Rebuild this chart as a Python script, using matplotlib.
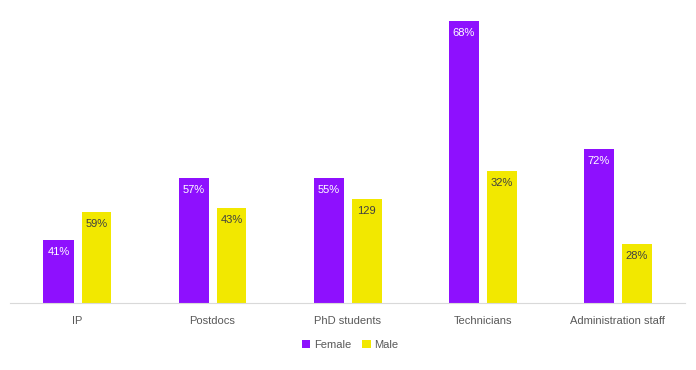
import matplotlib
matplotlib.use("Agg")
import matplotlib.pyplot as plt
import numpy as np

plt.rcParams['font.family'] = ['Liberation Sans', 'DejaVu Sans']

categories = ['IP', 'Postdocs', 'PhD students', 'Technicians', 'Administration staff']
female = [78, 155, 155, 350, 191]
male = [113, 118, 129, 164, 73]
female_labels = ['41%', '57%', '55%', '68%', '72%']
male_labels = ['59%', '43%', '129', '32%', '28%']

purple = '#8E10FE'
yellow = '#F2E800'

fig = plt.figure(figsize=(6.96, 3.70), dpi=100)
ax = fig.add_axes([10 / 696, 67 / 370, 675 / 696, 292 / 370])

x = np.arange(len(categories))
w = 30 / 135
off = 19 / 135
bf = ax.bar(x - off, female, w, color=purple, label='Female')
bm = ax.bar(x + off, male, w, color=yellow, label='Male')

# labels sit just inside the top of each bar
for rect, lab in zip(bf, female_labels):
    ax.annotate(lab, (rect.get_x() + rect.get_width() / 2, rect.get_height()),
                xytext=(0, -8.5), textcoords='offset points', ha='center', va='center',
                color='white', fontsize=8)
for rect, lab in zip(bm, male_labels):
    ax.annotate(lab, (rect.get_x() + rect.get_width() / 2, rect.get_height()),
                xytext=(0, -8.5), textcoords='offset points', ha='center', va='center',
                color='#404040', fontsize=8)

ax.set_xlim(-0.5, len(categories) - 0.5)
ax.set_ylim(0, 363)
ax.set_xticks(x)
ax.set_xticklabels(categories, fontsize=8, color='#595959')
ax.tick_params(axis='x', length=0, pad=9)
ax.set_yticks([])
for s in ['top', 'right', 'left']:
    ax.spines[s].set_visible(False)
ax.spines['bottom'].set_color('#D9D9D9')

fig.legend(loc='center', bbox_to_anchor=(350 / 696, 1 - 345 / 370), ncol=2, frameon=False,
           fontsize=8, labelcolor='#595959', handlelength=0.8, handleheight=0.8,
           handletextpad=0.3, columnspacing=1.0)

fig.savefig('out.png', dpi=100)
